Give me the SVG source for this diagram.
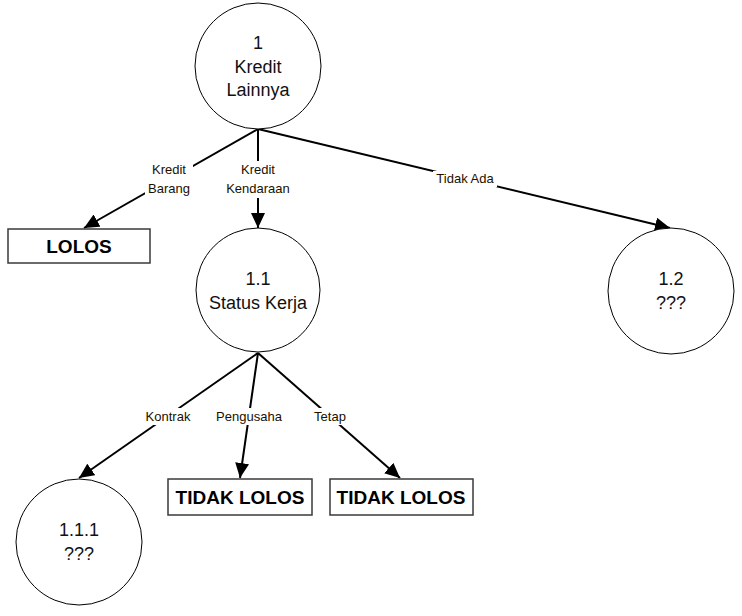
<svg xmlns="http://www.w3.org/2000/svg" width="742" height="616" viewBox="0 0 742 616">
<style>
.node{fill:#fff;stroke:#000;stroke-width:1}
.box{fill:#fff;stroke:#3a3a3a;stroke-width:1.5}
.t{font-family:"Liberation Sans",Arial,sans-serif;font-size:18px;fill:#111;text-anchor:middle}
.b{font-family:"Liberation Sans",Arial,sans-serif;font-size:19px;font-weight:bold;fill:#000;text-anchor:middle}
.l{font-family:"Liberation Sans",Arial,sans-serif;font-size:13px;fill:#1a1000;text-anchor:middle}
.e{stroke:#000;stroke-width:2;fill:none}
.bg{fill:#fff}
</style>
<defs>
<marker id="ah" markerUnits="userSpaceOnUse" markerWidth="16" markerHeight="14" refX="15" refY="7" orient="auto">
<path d="M0,0 L15,7 L0,14 Z" fill="#000"/>
</marker>
</defs>
<g id="connectors">
<line class="e" x1="258" y1="129" x2="84" y2="228" marker-end="url(#ah)"/>
<line class="e" x1="258" y1="129" x2="258" y2="228" marker-end="url(#ah)"/>
<line class="e" x1="258" y1="129" x2="670" y2="228" marker-end="url(#ah)"/>
<line class="e" x1="258" y1="353" x2="79" y2="478" marker-end="url(#ah)"/>
<line class="e" x1="258" y1="353" x2="240" y2="478" marker-end="url(#ah)"/>
<line class="e" x1="258" y1="353" x2="400" y2="478" marker-end="url(#ah)"/>
<rect class="bg" x="145" y="161" width="48" height="37"/>
<text class="l" x="169" y="174">Kredit</text>
<text class="l" x="169" y="193">Barang</text>
<rect class="bg" x="222" y="161" width="72" height="37"/>
<text class="l" x="258" y="174">Kredit</text>
<text class="l" x="258" y="193">Kendaraan</text>
<rect class="bg" x="433" y="171" width="64" height="16"/>
<text class="l" x="465" y="183">Tidak Ada</text>
<rect class="bg" x="143" y="408" width="50" height="17"/>
<text class="l" x="168" y="421">Kontrak</text>
<rect class="bg" x="214" y="408" width="71" height="17"/>
<text class="l" x="249" y="421">Pengusaha</text>
<rect class="bg" x="311" y="408" width="37" height="17"/>
<text class="l" x="330" y="421">Tetap</text>
</g>
<g id="n1">
<circle class="node" cx="258" cy="66" r="63"/>
<text class="t" x="258" y="49">1</text>
<text class="t" x="258" y="73">Kredit</text>
<text class="t" x="258" y="96">Lainnya</text>
</g>
<g id="lolos1">
<rect class="box" x="8" y="229" width="142" height="34"/>
<text class="b" x="79" y="253">LOLOS</text>
</g>
<g id="n1_1">
<circle class="node" cx="258" cy="290" r="62"/>
<text class="t" x="258" y="285">1.1</text>
<text class="t" x="258" y="309">Status Kerja</text>
</g>
<g id="n1_2">
<circle class="node" cx="671" cy="291" r="63"/>
<text class="t" x="671" y="285">1.2</text>
<text class="t" x="671" y="309">???</text>
</g>
<g id="n1_1_1">
<circle class="node" cx="79" cy="542" r="63"/>
<text class="t" x="79" y="536">1.1.1</text>
<text class="t" x="79" y="560">???</text>
</g>
<g id="tidak1">
<rect class="box" x="168" y="479" width="144" height="36"/>
<text class="b" x="240" y="504">TIDAK LOLOS</text>
</g>
<g id="tidak2">
<rect class="box" x="330" y="479" width="143" height="36"/>
<text class="b" x="401" y="504">TIDAK LOLOS</text>
</g>
</svg>
